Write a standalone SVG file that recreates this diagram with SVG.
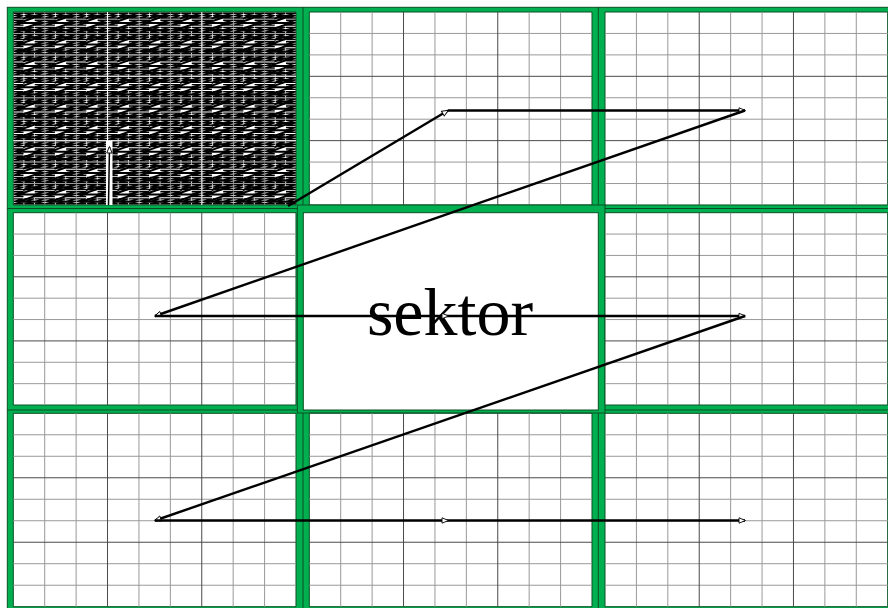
<svg xmlns="http://www.w3.org/2000/svg" width="888" height="608" viewBox="0 0 888 608">
<style>
.mn{fill:none;stroke:#999;stroke-width:1;vector-effect:non-scaling-stroke}
.mj{fill:none;stroke:#4a4a4a;stroke-width:1;vector-effect:non-scaling-stroke}
.in{fill:#fff;stroke:#0a4f22;stroke-width:1;vector-effect:non-scaling-stroke}
.dv{stroke:#0a4f22;stroke-width:1;fill:none}
.ar{fill:none;stroke:#000;stroke-width:2.4;marker-end:url(#ah)}
.tz{fill:none;stroke:#000;stroke-width:1.4}
.bz{fill:none;stroke:#000;stroke-width:2}
.gap{fill:none;stroke:#fff;stroke-width:1}
.lbl{font-family:"Liberation Serif","Times New Roman",serif;font-size:68px;fill:#000}
</style>
<defs>
<marker id="ah" markerWidth="8" markerHeight="8" refX="6" refY="3" orient="auto" markerUnits="userSpaceOnUse" overflow="visible"><path d="M0,0.3 L6.5,3 L0,5.7 z" fill="#fff" stroke="#000" stroke-width="0.9"/></marker>
<g id="grid"><rect class="in" x="0" y="0" width="9" height="9"/><path class="mn" d="M1,0V9M2,0V9M4,0V9M5,0V9M7,0V9M8,0V9M0,1H9M0,2H9M0,4H9M0,5H9M0,7H9M0,8H9"/><path class="mj" d="M3,0V9M6,0V9M0,3H9M0,6H9"/></g>
<path id="tz" class="tz" d="M0.4,1.2H10.2L0.6,3.6H10.2L0.6,6H10.2"/>
<g id="blob">
<use href="#tz"/><use href="#tz" x="10.5"/><use href="#tz" x="21"/>
<use href="#tz" y="7.1"/><use href="#tz" x="21" y="7.1"/>
<use href="#tz" y="14.2"/><use href="#tz" x="10.5" y="14.2"/><use href="#tz" x="21" y="14.2"/>
<path class="bz" d="M9.8,6.8L15.6,3.7H26.1L5.2,11H26.1L5.2,18.3H26.1"/>
</g>
<g id="row9">
<use href="#blob"/><use href="#blob" x="31.41"/><use href="#blob" x="62.82"/><use href="#blob" x="94.23"/><use href="#blob" x="125.64"/><use href="#blob" x="157.05"/><use href="#blob" x="188.46"/><use href="#blob" x="219.87"/><use href="#blob" x="251.28"/>
</g>
</defs>
<rect x="0" y="0" width="888" height="608" fill="#fff"/>
<g id="frame">
<rect x="7.3" y="7.3" width="890" height="610" fill="#00b050" stroke="#0a4f22" stroke-width="1"/>
<path class="dv" d="M303,7V608M598.3,7V608M7,208.5H888M7,410H888"/>
</g>
<g id="sector-0">
<g transform="translate(13.3,12) scale(31.41,21.44)"><use href="#grid"/></g>
<g transform="translate(13.3,12)">
<use href="#row9"/><use href="#row9" y="21.44"/><use href="#row9" y="42.88"/><use href="#row9" y="64.32"/><use href="#row9" y="85.76"/><use href="#row9" y="107.2"/><use href="#row9" y="128.64"/><use href="#row9" y="150.08"/><use href="#row9" y="171.52"/>
</g>
<path class="gap" d="M107.5,12V141M201.8,12V205M13.3,76.3H296M13.3,140.7H296"/>
<rect x="106" y="141" width="6.5" height="64" fill="#fff"/>
<path d="M108.5,205L109.5,147" fill="none" stroke="#000" stroke-width="1.5" marker-end="url(#ah)"/>
</g>
<g id="sector-1"><g transform="translate(309.3,12) scale(31.41,21.44)"><use href="#grid"/></g></g>
<g id="sector-2"><g transform="translate(605,12) scale(31.41,21.44)"><use href="#grid"/></g></g>
<g id="sector-3"><g transform="translate(13.3,212.7) scale(31.41,21.37)"><use href="#grid"/></g></g>
<g id="sector-4">
<rect x="297.3" y="205" width="307.7" height="208" fill="#00b050" stroke="#0a4f22" stroke-width="1"/>
<rect x="303.3" y="212.7" width="295" height="197.3" fill="#fff" stroke="#0a4f22" stroke-width="1"/>
<text class="lbl" x="450" y="335" text-anchor="middle">sektor</text>
</g>
<g id="sector-5"><g transform="translate(605,212.7) scale(31.41,21.37)"><use href="#grid"/></g></g>
<g id="sector-6"><g transform="translate(13.3,413.3) scale(31.41,21.49)"><use href="#grid"/></g></g>
<g id="sector-7"><g transform="translate(309.3,413.3) scale(31.41,21.49)"><use href="#grid"/></g></g>
<g id="sector-8"><g transform="translate(605,413.3) scale(31.41,21.49)"><use href="#grid"/></g></g>
<g id="connectors">
<path class="ar" d="M288,206L448,110.5"/>
<path class="ar" d="M448,110.5L745,110.5"/>
<path class="ar" d="M745,110.5L155,316"/>
<path class="ar" d="M155,316L448,316"/>
<path class="ar" d="M448,316L745,316"/>
<path class="ar" d="M745,316L155,520.5"/>
<path class="ar" d="M155,520.5L448,520.5"/>
<path class="ar" d="M448,520.5L745,520.5"/>
</g>
</svg>
